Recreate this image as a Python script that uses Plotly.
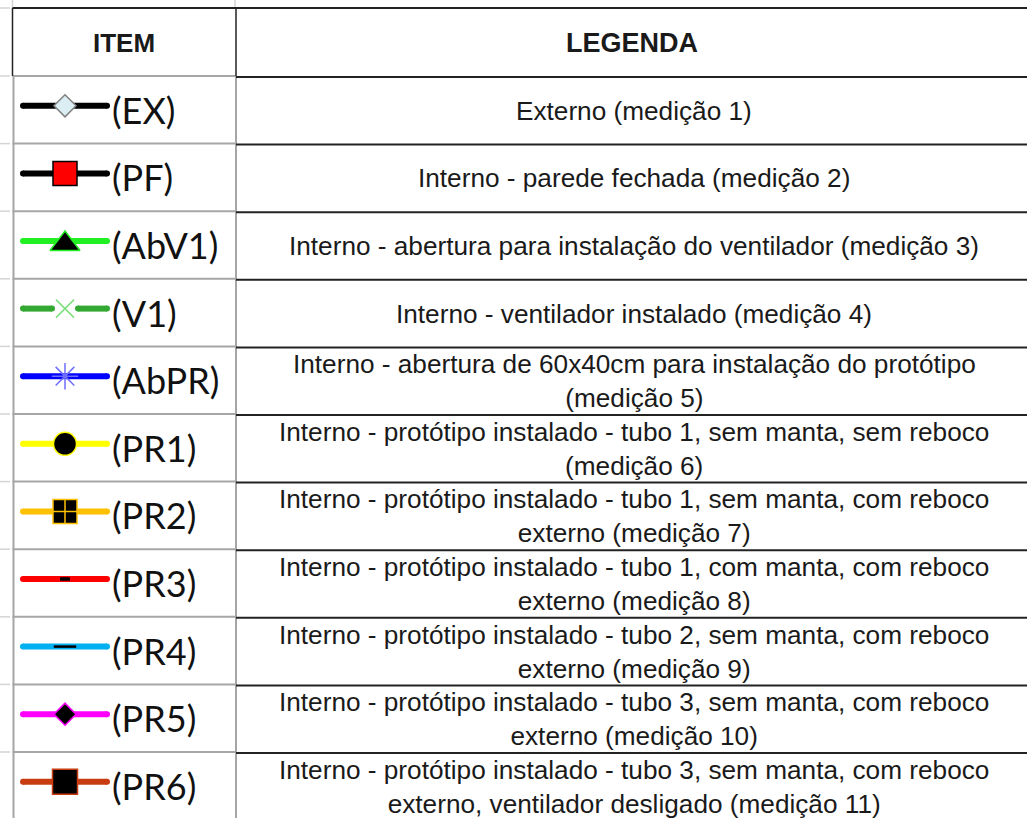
import plotly.graph_objects as go

# ---------------- data ----------------
header_item = "ITEM"
header_legend = "LEGENDA"

item_codes = ["(EX)", "(PF)", "(AbV1)", "(V1)", "(AbPR)", "(PR1)", "(PR2)",
              "(PR3)", "(PR4)", "(PR5)", "(PR6)"]

descriptions = [
    "Externo (medição 1)",
    "Interno - parede fechada (medição 2)",
    "Interno - abertura para instalação do ventilador (medição 3)",
    "Interno - ventilador instalado (medição 4)",
    "Interno - abertura de 60x40cm para instalação do protótipo<br>(medição 5)",
    "Interno - protótipo instalado - tubo 1, sem manta, sem reboco<br>(medição 6)",
    "Interno - protótipo instalado - tubo 1, sem manta, com reboco<br>externo (medição 7)",
    "Interno - protótipo instalado - tubo 1, com manta, com reboco<br>externo (medição 8)",
    "Interno - protótipo instalado - tubo 2, sem manta, com reboco<br>externo (medição 9)",
    "Interno - protótipo instalado - tubo 3, sem manta, com reboco<br>externo (medição 10)",
    "Interno - protótipo instalado - tubo 3, sem manta, com reboco<br>externo, ventilador desligado (medição 11)",
]

# ---------------- styles ----------------
line_colors = ["#000000", "#000000", "#22f022", "#33a832", "#0000ff", "#ffff00",
               "#ffc000", "#ff0000", "#00b0f0", "#ff00ff", "#c83c10"]
marker_symbols = ["diamond", "square", "triangle-up", "x-thin-open", "asterisk-open",
                  "circle", "square-cross", "line-ew", "line-ew", "diamond", "square"]
marker_sizes = [17, 24, 26, 18, 22, 23, 24, 7, 16, 17, 25]
marker_fill = ["#dbeef3", "#ff0000", "#000000", "#7ee07e", "#6f6fff", "#000000",
               "#000000", "#000000", "#000000", "#000000", "#000000"]
marker_line = ["#808080", "#000000", "#22f022", "#7ee07e", "#6f6fff", "#ffff00",
               "#ffc000", "#000000", "#000000", "#ff00ff", "#c83c10"]
marker_line_w = [1.5, 1.5, 1.5, 1.5, 1.5, 1.5, 1.5, 3.5, 2.5, 1.5, 1.5]
gap_around_marker = [False, False, False, True, False, False, False, False, False, False, False]

W, H = 1027, 818
table_top = 8
header_bottom = 76
row_h = 67.6
x_left = 12.5
x_mid = 236
x_right = 1027
sym_x0, sym_x1, sym_xc = 23, 107, 65
label_x = 110
desc_xc = 634
grid_gray = "#a6a6a6"
dark = "#1a1a1a"

n = len(item_codes)
row_tops = [header_bottom + row_h * i for i in range(n)]
row_centers = [t + row_h / 2 for t in row_tops]

fig = go.Figure()

# symbols
for i in range(n):
    yc = row_centers[i] - 4
    if gap_around_marker[i]:
        xs = [sym_x0, sym_xc - 13, None, sym_xc + 13, sym_x1]
        ys = [yc, yc, None, yc, yc]
        caps_x = [sym_x0, sym_xc - 13, sym_xc + 13, sym_x1]
    else:
        xs = [sym_x0, sym_x1]
        ys = [yc, yc]
        caps_x = [sym_x0, sym_x1]
    fig.add_trace(go.Scatter(x=xs, y=ys, mode="lines",
                             line=dict(color=line_colors[i], width=6),
                             hoverinfo="skip", showlegend=False))
    fig.add_trace(go.Scatter(x=caps_x, y=[yc] * len(caps_x), mode="markers",
                             marker=dict(color=line_colors[i], size=6, line=dict(width=0)),
                             hoverinfo="skip", showlegend=False))
    fig.add_trace(go.Scatter(x=[sym_xc], y=[yc + (3 if marker_symbols[i] == "triangle-up" else 0)],
                             mode="markers",
                             marker=dict(symbol=marker_symbols[i], size=marker_sizes[i],
                                         color=marker_fill[i],
                                         line=dict(color=marker_line[i], width=marker_line_w[i])),
                             hoverinfo="skip", showlegend=False))

shapes = []
def seg(x0, y0, x1, y1, color, width):
    shapes.append(dict(type="line", xref="x", yref="y", x0=x0, y0=y0, x1=x1, y1=y1,
                       line=dict(color=color, width=width), layer="below"))

# faint spreadsheet grid ticks
row_bounds = [header_bottom] + [t + row_h for t in row_tops]
for yb in [table_top] + row_bounds:
    seg(0, yb, 10, yb, "#d4d4d4", 1.5)
seg(x_left, 0, x_left, table_top, "#d4d4d4", 1.5)
seg(x_mid - 1, 0, x_mid - 1, table_top, "#d4d4d4", 1.5)

# left column (gray grid)
seg(x_left + 1, header_bottom, x_left + 1, H, grid_gray, 2)
seg(x_mid, header_bottom, x_mid, H, grid_gray, 2)
for yb in row_bounds:
    seg(x_left, yb, x_mid, yb, grid_gray, 2)
# right column (black horizontal rules)
for yb in row_bounds:
    seg(x_mid, yb + 1, x_right, yb + 1, "#222222", 2)
# header box
seg(x_left, table_top, x_right, table_top, "#222222", 2)
seg(x_left, table_top, x_left, header_bottom, "#222222", 1.5)
seg(x_mid, table_top, x_mid, header_bottom, "#222222", 1.5)

annotations = []
annotations.append(dict(x=(x_left + x_mid) / 2, y=(table_top + header_bottom) / 2 + 1,
                        text="<b>" + header_item + "</b>", showarrow=False,
                        xanchor="center", yanchor="middle",
                        font=dict(family="Liberation Sans", size=26, color=dark)))
annotations.append(dict(x=desc_xc - 2, y=(table_top + header_bottom) / 2 + 1,
                        text="<b>" + header_legend + "</b>", showarrow=False,
                        xanchor="center", yanchor="middle",
                        font=dict(family="Liberation Sans", size=27, color=dark)))
for i in range(n):
    annotations.append(dict(x=label_x, y=row_centers[i], text=item_codes[i], showarrow=False,
                            xanchor="left", yanchor="middle",
                            font=dict(family="Lato", size=36, color="#111111")))
    annotations.append(dict(x=desc_xc, y=row_centers[i] + 1, text=descriptions[i],
                            showarrow=False, xanchor="center", yanchor="middle",
                            font=dict(family="Liberation Sans", size=26.2, color=dark)))

fig.update_layout(
    width=W, height=H,
    margin=dict(l=0, r=0, t=0, b=0),
    paper_bgcolor="white", plot_bgcolor="white",
    xaxis=dict(range=[0, W], visible=False, fixedrange=True),
    yaxis=dict(range=[H, 0], visible=False, fixedrange=True),
    shapes=shapes, annotations=annotations,
)

fig.write_html("out.html", config={"displayModeBar": False},
               post_script="document.body.style.margin='0';document.body.style.overflow='hidden';")
